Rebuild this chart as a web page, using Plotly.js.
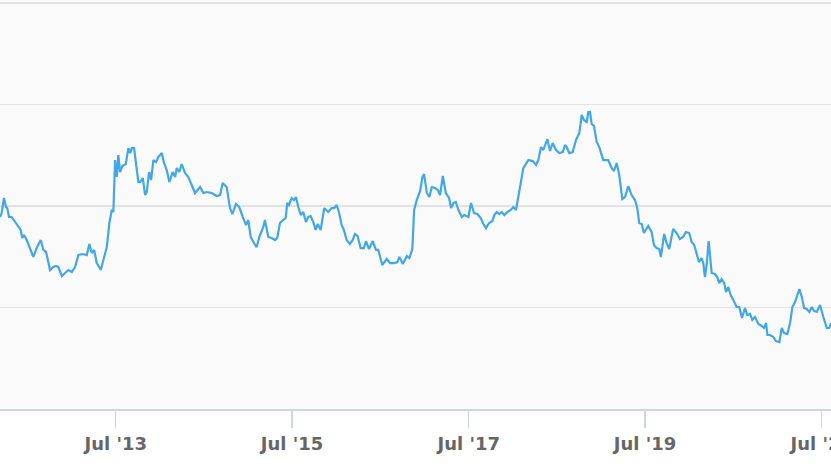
<!DOCTYPE html>
<html>
<head>
<meta charset="utf-8">
<script src="https://cdn.plot.ly/plotly-3.0.1.min.js"></script>
<style>
  html, body { margin: 0; padding: 0; background: #fff; }
  #chart { width: 831px; height: 467px; }
</style>
</head>
<body>
<div id="chart"></div>
<script>
// Sample times as decimal years.
const tYear = [
  2012.186, 2012.205, 2012.231, 2012.254, 2012.268, 2012.288, 2012.318, 2012.356, 2012.393, 2012.420,
  2012.438, 2012.458, 2012.488, 2012.526, 2012.563, 2012.601, 2012.647, 2012.676, 2012.707, 2012.752,
  2012.790, 2012.820, 2012.846, 2012.885, 2012.922, 2012.959, 2012.998, 2013.035, 2013.073, 2013.123,
  2013.168, 2013.197, 2013.225, 2013.251, 2013.281, 2013.327, 2013.356, 2013.395, 2013.424, 2013.451,
  2013.469, 2013.489, 2013.508, 2013.526, 2013.545, 2013.571, 2013.610, 2013.639, 2013.659, 2013.678,
  2013.704, 2013.735, 2013.753, 2013.772, 2013.803, 2013.829, 2013.848, 2013.874, 2013.897, 2013.923,
  2013.953, 2013.979, 2014.018, 2014.044, 2014.074, 2014.104, 2014.142, 2014.169, 2014.188, 2014.217,
  2014.244, 2014.282, 2014.319, 2014.358, 2014.395, 2014.452, 2014.489, 2014.528, 2014.584, 2014.641,
  2014.679, 2014.709, 2014.754, 2014.792, 2014.818, 2014.860, 2014.897, 2014.936, 2014.973, 2014.999,
  2015.026, 2015.064, 2015.094, 2015.124, 2015.169, 2015.188, 2015.226, 2015.264, 2015.302, 2015.328,
  2015.358, 2015.396, 2015.423, 2015.441, 2015.460, 2015.491, 2015.517, 2015.540, 2015.566, 2015.596,
  2015.622, 2015.653, 2015.679, 2015.706, 2015.736, 2015.763, 2015.786, 2015.820, 2015.860, 2015.906,
  2015.944, 2015.974, 2016.001, 2016.027, 2016.057, 2016.083, 2016.114, 2016.151, 2016.182, 2016.208,
  2016.238, 2016.272, 2016.310, 2016.333, 2016.367, 2016.409, 2016.446, 2016.472, 2016.517, 2016.567,
  2016.605, 2016.650, 2016.688, 2016.710, 2016.749, 2016.794, 2016.823, 2016.857, 2016.877, 2016.907,
  2016.945, 2016.971, 2016.990, 2017.021, 2017.050, 2017.077, 2017.115, 2017.145, 2017.171, 2017.202,
  2017.236, 2017.273, 2017.296, 2017.322, 2017.349, 2017.379, 2017.417, 2017.446, 2017.492, 2017.522,
  2017.556, 2017.594, 2017.632, 2017.662, 2017.692, 2017.726, 2017.764, 2017.786, 2017.814, 2017.843,
  2017.870, 2017.900, 2017.934, 2017.972, 2018.002, 2018.032, 2018.058, 2018.086, 2018.115, 2018.172,
  2018.222, 2018.259, 2018.285, 2018.316, 2018.342, 2018.387, 2018.418, 2018.448, 2018.486, 2018.523,
  2018.562, 2018.588, 2018.607, 2018.636, 2018.675, 2018.712, 2018.750, 2018.777, 2018.803, 2018.834,
  2018.852, 2018.871, 2018.890, 2018.916, 2018.947, 2018.976, 2019.022, 2019.078, 2019.117, 2019.143,
  2019.173, 2019.203, 2019.237, 2019.268, 2019.305, 2019.343, 2019.381, 2019.407, 2019.429, 2019.457,
  2019.483, 2019.531, 2019.570, 2019.596, 2019.626, 2019.656, 2019.675, 2019.712, 2019.740, 2019.769,
  2019.814, 2019.853, 2019.891, 2019.928, 2019.958, 2019.996, 2020.023, 2020.053, 2020.080, 2020.106,
  2020.136, 2020.155, 2020.174, 2020.193, 2020.216, 2020.250, 2020.287, 2020.313, 2020.336, 2020.363,
  2020.392, 2020.412, 2020.438, 2020.465, 2020.494, 2020.533, 2020.562, 2020.593, 2020.627, 2020.653,
  2020.684, 2020.710, 2020.740, 2020.778, 2020.816, 2020.842, 2020.865, 2020.880, 2020.910, 2020.948,
  2020.975, 2021.016, 2021.043, 2021.069, 2021.106, 2021.137, 2021.163, 2021.194, 2021.220, 2021.242,
  2021.270, 2021.296, 2021.326, 2021.356, 2021.383, 2021.409, 2021.439, 2021.477, 2021.514, 2021.553,
  2021.582, 2021.601
];

// Series values (gridlines sit at whole numbers).
const values = [
  1.892, 1.931, 2.079, 1.990, 1.980, 1.892, 1.892, 1.842, 1.793, 1.764,
  1.685, 1.714, 1.665, 1.586, 1.498, 1.586, 1.665, 1.567, 1.547, 1.369,
  1.399, 1.409, 1.399, 1.310, 1.340, 1.369, 1.350, 1.399, 1.517, 1.527,
  1.517, 1.626, 1.537, 1.567, 1.438, 1.369, 1.468, 1.596, 1.833, 1.961,
  1.941, 2.453, 2.286, 2.502, 2.335, 2.394, 2.414, 2.571, 2.522, 2.571,
  2.571, 2.384, 2.236, 2.236, 2.276, 2.108, 2.138, 2.335, 2.256, 2.453,
  2.433, 2.483, 2.522, 2.424, 2.355, 2.236, 2.335, 2.286, 2.374, 2.335,
  2.414, 2.325, 2.286, 2.207, 2.128, 2.187, 2.128, 2.138, 2.128, 2.099,
  2.108, 2.227, 2.187, 1.980, 1.921, 2.020, 1.990, 1.892, 1.813, 1.862,
  1.695, 1.635, 1.596, 1.695, 1.793, 1.862, 1.695, 1.685, 1.665, 1.685,
  1.833, 1.862, 1.882, 2.030, 2.010, 2.079, 2.059, 2.089, 1.990, 1.911,
  1.941, 1.842, 1.892, 1.901, 1.842, 1.764, 1.823, 1.764, 1.980, 1.941,
  1.980, 1.980, 2.010, 1.941, 1.813, 1.764, 1.665, 1.626, 1.665, 1.724,
  1.704, 1.586, 1.586, 1.655, 1.576, 1.655, 1.567, 1.567, 1.419, 1.478,
  1.438, 1.438, 1.448, 1.498, 1.429, 1.507, 1.488, 1.576, 1.961, 2.059,
  2.148, 2.286, 2.315, 2.128, 2.089, 2.187, 2.177, 2.158, 2.108, 2.296,
  2.128, 2.079, 1.980, 2.030, 2.040, 1.961, 1.892, 1.911, 1.892, 2.030,
  1.931, 1.921, 1.882, 1.823, 1.783, 1.833, 1.852, 1.911, 1.941, 1.921,
  1.941, 1.911, 1.941, 1.961, 1.990, 1.961, 2.089, 2.236, 2.374, 2.453,
  2.443, 2.404, 2.453, 2.581, 2.552, 2.660, 2.542, 2.621, 2.552, 2.522,
  2.532, 2.601, 2.581, 2.522, 2.532, 2.650, 2.719, 2.897, 2.847, 2.828,
  2.926, 2.926, 2.808, 2.788, 2.631, 2.581, 2.453, 2.453, 2.374, 2.345,
  2.424, 2.305, 2.069, 2.089, 2.197, 2.108, 2.059, 1.980, 1.833, 1.823,
  1.734, 1.803, 1.744, 1.616, 1.586, 1.576, 1.498, 1.724, 1.635, 1.576,
  1.773, 1.734, 1.675, 1.695, 1.744, 1.734, 1.645, 1.616, 1.537, 1.448,
  1.488, 1.438, 1.300, 1.419, 1.655, 1.340, 1.330, 1.300, 1.241, 1.281,
  1.241, 1.153, 1.202, 1.123, 1.074, 1.005, 1.005, 0.897, 0.995, 0.926,
  0.936, 0.877, 0.906, 0.837, 0.818, 0.798, 0.847, 0.729, 0.729, 0.709,
  0.670, 0.660, 0.798, 0.749, 0.739, 0.847, 1.005, 1.054, 1.123, 1.182,
  1.103, 0.995, 0.985, 0.956, 1.005, 0.966, 0.956, 1.025, 0.906, 0.798,
  0.798, 0.847
];

// x-axis ticks: every second July
const tickStart = "2011-07-01";
const tickStep = "M24";
const tickFormat = "%b '%y";

// visible window (decimal years) and value range
const xStart = 2012.186;
const xEnd = 2021.601;
const yRange = [0, 4.03];

function yearToDate(t) {
  const y = Math.floor(t);
  const a = Date.UTC(y, 0, 1);
  const b = Date.UTC(y + 1, 0, 1);
  return new Date(a + (t - y) * (b - a)).toISOString().replace("T", " ").slice(0, 19);
}

const trace = {
  x: tYear.map(yearToDate),
  y: values,
  type: "scatter",
  mode: "lines",
  line: { color: "#41a7e8", width: 2.2 },
  hoverinfo: "skip",
  showlegend: false,
};

const layout = {
  width: 831,
  height: 467,
  margin: { l: 0, r: 0, t: 0, b: 58, pad: 0 },
  paper_bgcolor: "#ffffff",
  plot_bgcolor: "#fafafa",
  showlegend: false,
  xaxis: {
    type: "date",
    range: [yearToDate(xStart), yearToDate(xEnd)],
    tick0: tickStart,
    dtick: tickStep,
    tickformat: tickFormat,
    ticks: "outside",
    ticklen: 17,
    tickwidth: 1.5,
    tickcolor: "#ccd6eb",
    ticklabeloverflow: "allow",
    showline: true,
    linecolor: "#ccd6eb",
    linewidth: 2,
    showgrid: false,
    zeroline: false,
    tickfont: { family: "DejaVu Sans", size: 18, color: "#666666", weight: "bold" },
  },
  yaxis: {
    range: yRange,
    dtick: 1,
    showticklabels: false,
    ticks: "",
    showgrid: true,
    gridcolor: "#e2e2e2",
    gridwidth: 1.5,
    zeroline: false,
    showline: false,
  },
};

Plotly.newPlot("chart", [trace], layout, { staticPlot: true, displayModeBar: false });
</script>
</body>
</html>
